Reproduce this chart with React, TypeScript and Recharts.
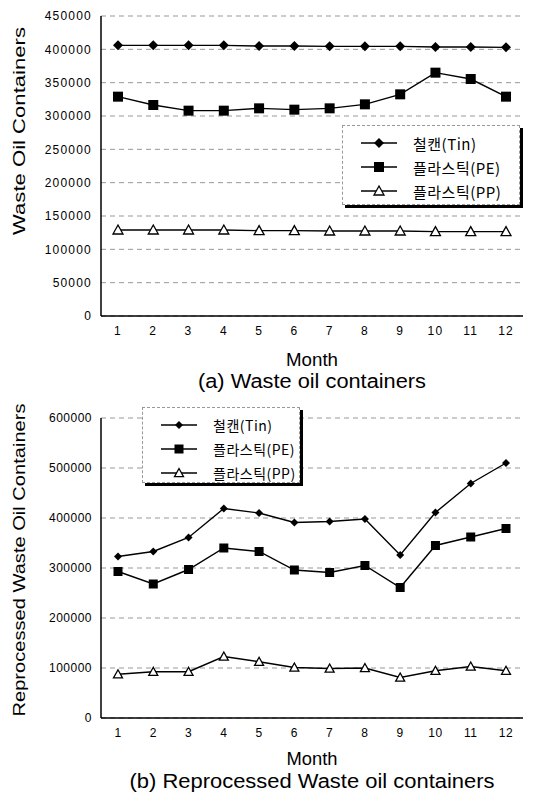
import React from 'react';
import { CartesianGrid, Label, Legend, Line, LineChart, XAxis, YAxis } from 'recharts';

const months = ['1', '2', '3', '4', '5', '6', '7', '8', '9', '10', '11', '12'];

// (a) waste oil containers
const tinA = [406000, 406000, 406000, 406000, 405000, 405000, 404500, 404500, 404500, 403500, 403500, 403000];
const peA = [329000, 316500, 308000, 308000, 311500, 309500, 311500, 317500, 332500, 365000, 355500, 329000];
const ppA = [129000, 129000, 129000, 129000, 128000, 128000, 127500, 127500, 127500, 126500, 126500, 126500];
const ticksA = [0, 50000, 100000, 150000, 200000, 250000, 300000, 350000, 400000, 450000];

// (b) reprocessed waste oil containers
const tinB = [323000, 333000, 361000, 419000, 410000, 391000, 393000, 398000, 326000, 411000, 469000, 510000];
const peB = [293000, 268000, 297000, 340000, 333000, 296000, 291000, 305000, 261000, 345000, 362000, 379000];
const ppB = [87500, 92500, 92500, 123000, 112500, 101000, 99000, 100000, 81000, 94500, 103000, 94500];
const ticksB = [0, 100000, 200000, 300000, 400000, 500000, 600000];

const seriesNames = ['철캔(Tin)', '플라스틱(PE)', '플라스틱(PP)'];

const FONT = '"Liberation Sans", Arial, sans-serif';
const KFONT = '"Noto Sans CJK KR", "Liberation Sans", sans-serif';

type Shape = 'diamond' | 'square' | 'triangle';
const shapes: Shape[] = ['diamond', 'square', 'triangle'];

function marker(shape: Shape, cx: number, cy: number, s: number, key?: React.Key) {
  if (shape === 'diamond') {
    return <polygon key={key} points={`${cx},${cy - s} ${cx + s},${cy} ${cx},${cy + s} ${cx - s},${cy}`} fill="#000" />;
  }
  if (shape === 'square') {
    return <rect key={key} x={cx - s} y={cy - s} width={s * 2} height={s * 2} fill="#000" />;
  }
  return (
    <polygon
      key={key}
      points={`${cx},${cy - s} ${cx + s},${cy + s * 0.8} ${cx - s},${cy + s * 0.8}`}
      fill="#fff"
      stroke="#000"
      strokeWidth={1.3}
    />
  );
}

const makeDot = (shape: Shape, s: number) => (props: any) => {
  const { cx, cy, index } = props;
  if (cx == null || cy == null) return <g key={index} />;
  return marker(shape, cx, cy, s, index);
};

interface PanelProps {
  top: number;
  height: number;
  marginTop: number;
  values: number[][];
  ticks: number[];
  yTitle: string;
  yTitleLen: number;
  yTitleY: number;
  caption: string;
  captionLen: number;
  captionDy: number;
  monthLen: number;
  monthDy: number;
  legendBox: { left: number; top: number; width: number; height: number };
  legendFont: number;
  legendGap: number;
  markerSizes: number[];
  tickSpacing: number;
}

function Panel(p: PanelProps) {
  const data = months.map((m, i) => ({
    month: m,
    tin: p.values[0][i],
    pe: p.values[1][i],
    pp: p.values[2][i],
  }));
  const keys = ['tin', 'pe', 'pp'];
  const yMax = p.ticks[p.ticks.length - 1];
  const pad = { left: 17, right: 17 };

  const renderLegend = () => (
    <div
      style={{
        width: p.legendBox.width,
        height: p.legendBox.height,
        boxSizing: 'border-box',
        border: '1px dashed #999',
        boxShadow: '3px 3px 0 #000',
        background: '#fff',
        paddingTop: 5,
      }}
    >
      {seriesNames.map((name, i) => (
        <div key={name} style={{ display: 'flex', alignItems: 'center', height: p.legendGap, paddingLeft: 16 }}>
          <svg width={42} height={14}>
            <line x1={2} y1={7} x2={38} y2={7} stroke="#000" strokeWidth={1.4} />
            {marker(shapes[i], 20, 7, p.markerSizes[i])}
          </svg>
          <span style={{ fontFamily: KFONT, fontSize: p.legendFont, color: '#000', marginLeft: 12, letterSpacing: 0.5 }}>{name}</span>
        </div>
      ))}
    </div>
  );

  return (
    <div style={{ position: 'absolute', left: 0, top: p.top }}>
      <LineChart width={535} height={p.height} data={data} margin={{ top: p.marginTop, right: 12, bottom: 0, left: 0 }}>
        <CartesianGrid vertical={false} stroke="#999" strokeDasharray="5 4" />
        <XAxis
          dataKey="month"
          padding={pad}
          height={p.height - 300 - p.marginTop}
          tickLine={false}
          tickSize={6}
          tickMargin={4}
          axisLine={{ stroke: '#000', strokeWidth: 1.5 }}
          tick={{ fontSize: 12, fill: '#000', fontFamily: FONT, letterSpacing: p.tickSpacing }}
        >
          <Label
            content={(lp: any) => {
              const vb = lp.viewBox;
              return (
                <text x={vb.x + vb.width / 2} y={vb.y + p.monthDy} textAnchor="middle" fontFamily={FONT} fontSize={18} textLength={p.monthLen} lengthAdjust="spacingAndGlyphs">
                  Month
                </text>
              );
            }}
          />
          <Label
            content={(lp: any) => {
              const vb = lp.viewBox;
              return (
                <text x={vb.x + vb.width / 2} y={vb.y + p.captionDy} textAnchor="middle" fontFamily={FONT} fontSize={20} textLength={p.captionLen} lengthAdjust="spacingAndGlyphs">
                  {p.caption}
                </text>
              );
            }}
          />
        </XAxis>
        <XAxis xAxisId="frame" orientation="top" dataKey="month" padding={pad} height={0} tick={false} tickLine={false} axisLine={{ stroke: '#000', strokeWidth: 1.3 }} />
        <YAxis
          width={101}
          domain={[0, yMax]}
          ticks={p.ticks}
          interval={0}
          tickLine={false}
          tickSize={6}
          tickMargin={3}
          axisLine={{ stroke: '#000', strokeWidth: 1.5 }}
          tick={{ fontSize: 12, fill: '#000', fontFamily: FONT, letterSpacing: p.tickSpacing }}
        >
          <Label
            content={() => (
              <text
                x={25}
                y={p.yTitleY}
                transform={`rotate(-90 25 ${p.yTitleY})`}
                textAnchor="middle"
                fontFamily={FONT}
                fontSize={17}
                textLength={p.yTitleLen}
                lengthAdjust="spacingAndGlyphs"
              >
                {p.yTitle}
              </text>
            )}
          />
        </YAxis>
        <YAxis yAxisId="frame" orientation="right" width={0} tick={false} tickLine={false} axisLine={{ stroke: '#000', strokeWidth: 1 }} />
        <Legend
          layout="horizontal"
          verticalAlign="middle"
          align="center"
          wrapperStyle={{ left: p.legendBox.left, top: p.legendBox.top, width: p.legendBox.width }}
          content={renderLegend}
        />
        {keys.map((k, i) => (
          <Line
            key={k}
            dataKey={k}
            name={seriesNames[i]}
            type="linear"
            stroke="#000"
            strokeWidth={1.4}
            dot={makeDot(shapes[i], p.markerSizes[i])}
            isAnimationActive={false}
          />
        ))}
      </LineChart>
    </div>
  );
}

export default function App() {
  return (
    <div style={{ position: 'absolute', left: 0, top: 0, width: 535, height: 792, background: '#fff' }}>
      <Panel
        top={0}
        height={400}
        marginTop={16}
        values={[tinA, peA, ppA]}
        ticks={ticksA}
        yTitle="Waste Oil Containers"
        yTitleLen={208}
        yTitleY={131}
        caption="(a) Waste oil containers"
        captionLen={228}
        captionDy={72}
        monthLen={52}
        monthDy={50}
        legendBox={{ left: 342, top: 125, width: 178, height: 80 }}
        legendFont={15}
        legendGap={24}
        markerSizes={[5, 5, 5]}
        tickSpacing={1.2}
      />
      <Panel
        top={400}
        height={392}
        marginTop={18}
        values={[tinB, peB, ppB]}
        ticks={ticksB}
        yTitle="Reprocessed Waste Oil Containers"
        yTitleLen={313}
        yTitleY={160}
        caption="(b) Reprocessed Waste oil containers"
        captionLen={365}
        captionDy={70}
        monthLen={51}
        monthDy={47}
        legendBox={{ left: 142, top: 7, width: 158, height: 76 }}
        legendFont={14}
        legendGap={24}
        markerSizes={[4, 4.5, 4.5]}
        tickSpacing={0.5}
      />
    </div>
  );
}
